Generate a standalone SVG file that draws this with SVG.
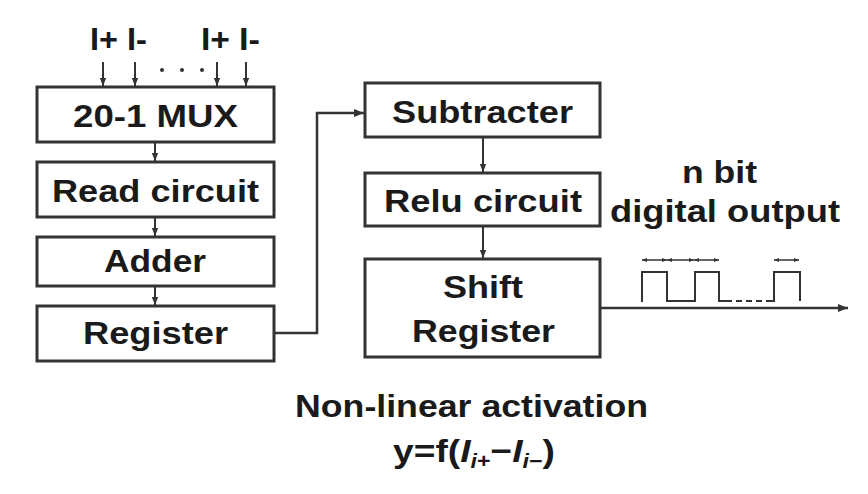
<svg xmlns="http://www.w3.org/2000/svg" width="868" height="494" viewBox="0 0 868 494">
<style>
.box{fill:#fff;stroke:#333;stroke-width:3}
.t{font-family:"Liberation Sans",Arial,sans-serif;font-weight:bold;font-size:32px;fill:#1a1a1a;text-anchor:middle}
.ln{fill:none;stroke:#333;stroke-width:2.5}
.thin{fill:none;stroke:#333;stroke-width:2}
</style>
<defs>
<marker id="ah" viewBox="0 0 10 10" refX="10" refY="5" markerWidth="4" markerHeight="4" orient="auto-start-reverse" markerUnits="strokeWidth">
<path d="M0,1 L10,5 L0,9 z" fill="#333"/>
</marker>
<marker id="sh" viewBox="0 0 10 10" refX="10" refY="5" markerWidth="3.5" markerHeight="3.5" orient="auto-start-reverse" markerUnits="strokeWidth">
<path d="M0,1 L10,5 L0,9 z" fill="#333"/>
</marker>
</defs>
<rect width="868" height="494" fill="#fff"/>

<g id="inputs">
<text class="t" x="104" y="50" textLength="28" lengthAdjust="spacingAndGlyphs">I+</text>
<text class="t" x="137" y="50" textLength="20" lengthAdjust="spacingAndGlyphs">I-</text>
<text class="t" x="215.5" y="50" textLength="29" lengthAdjust="spacingAndGlyphs">I+</text>
<text class="t" x="249.5" y="50" textLength="21" lengthAdjust="spacingAndGlyphs">I-</text>
<circle cx="162" cy="70" r="2" fill="#333"/>
<circle cx="182" cy="70" r="2" fill="#333"/>
<circle cx="202" cy="70" r="2" fill="#333"/>
</g>

<g id="mux">
<rect class="box" x="37" y="87" width="237" height="55"/>
<text class="t" x="155.5" y="127" textLength="165" lengthAdjust="spacingAndGlyphs">20-1 MUX</text>
</g>
<g id="read">
<rect class="box" x="37" y="162" width="237" height="55"/>
<text class="t" x="155.5" y="202" textLength="207" lengthAdjust="spacingAndGlyphs">Read circuit</text>
</g>
<g id="adder">
<rect class="box" x="37" y="237" width="237" height="49"/>
<text class="t" x="155" y="272" textLength="102" lengthAdjust="spacingAndGlyphs">Adder</text>
</g>
<g id="register">
<rect class="box" x="37" y="306" width="237" height="55"/>
<text class="t" x="155.5" y="344" textLength="145" lengthAdjust="spacingAndGlyphs">Register</text>
</g>
<g id="subtracter">
<rect class="box" x="365" y="83" width="235" height="54"/>
<text class="t" x="482.5" y="123" textLength="181" lengthAdjust="spacingAndGlyphs">Subtracter</text>
</g>
<g id="relu">
<rect class="box" x="365" y="173" width="235" height="53"/>
<text class="t" x="483" y="212" textLength="198" lengthAdjust="spacingAndGlyphs">Relu circuit</text>
</g>
<g id="shift">
<rect class="box" x="365" y="259" width="235" height="98"/>
<text class="t" x="483" y="298" textLength="80" lengthAdjust="spacingAndGlyphs">Shift</text>
<text class="t" x="483.5" y="342" textLength="143" lengthAdjust="spacingAndGlyphs">Register</text>
</g>

<g id="connectors">
<line class="thin" x1="103" y1="62" x2="103" y2="86" marker-end="url(#ah)"/>
<line class="thin" x1="135" y1="62" x2="135" y2="86" marker-end="url(#ah)"/>
<line class="thin" x1="217" y1="62" x2="217" y2="86" marker-end="url(#ah)"/>
<line class="thin" x1="246" y1="62" x2="246" y2="86" marker-end="url(#ah)"/>
<line class="thin" x1="155" y1="143" x2="155" y2="161" marker-end="url(#ah)"/>
<line class="thin" x1="155" y1="218" x2="155" y2="236" marker-end="url(#ah)"/>
<line class="thin" x1="155" y1="287" x2="155" y2="305" marker-end="url(#ah)"/>
<polyline class="ln" points="275,333 317,333 317,113 364,113" marker-end="url(#ah)"/>
<line class="thin" x1="483" y1="138" x2="483" y2="172" marker-end="url(#ah)"/>
<line class="thin" x1="483" y1="227" x2="483" y2="258" marker-end="url(#ah)"/>
<line class="ln" x1="601" y1="308" x2="848" y2="308" marker-end="url(#ah)"/>
</g>

<g id="waveform">
<polyline class="thin" points="642,302 642,272 667,272 667,301 695,301 695,272 719,272 719,301 726,301"/>
<line class="thin" x1="726" y1="301" x2="774" y2="301" stroke-dasharray="6,4"/>
<polyline class="thin" points="768,301 774,301 774,272 800,272 800,301"/>
<line x1="642" y1="260" x2="667" y2="260" stroke="#333" stroke-width="1.5" marker-start="url(#sh)" marker-end="url(#sh)"/>
<line x1="667" y1="260" x2="694" y2="260" stroke="#333" stroke-width="1.5" marker-start="url(#sh)" marker-end="url(#sh)"/>
<line x1="694" y1="260" x2="719" y2="260" stroke="#333" stroke-width="1.5" marker-start="url(#sh)" marker-end="url(#sh)"/>
<line x1="774" y1="260" x2="799" y2="260" stroke="#333" stroke-width="1.5" marker-start="url(#sh)" marker-end="url(#sh)"/>
<text class="t" x="719.5" y="183" textLength="75" lengthAdjust="spacingAndGlyphs">n bit</text>
<text class="t" x="725" y="222" textLength="230" lengthAdjust="spacingAndGlyphs">digital output</text>
</g>

<g id="caption">
<text class="t" x="471.5" y="417" textLength="353" lengthAdjust="spacingAndGlyphs">Non-linear activation</text>
<text class="t" x="474" y="462" textLength="162" lengthAdjust="spacingAndGlyphs">y=f(<tspan font-style="italic">I</tspan><tspan font-style="italic" font-size="20" dy="6">i</tspan><tspan font-size="20">+</tspan><tspan dy="-6">−</tspan><tspan font-style="italic">I</tspan><tspan font-style="italic" font-size="20" dy="6">i</tspan><tspan font-size="20">−</tspan><tspan dy="-6">)</tspan></text>
</g>
</svg>
